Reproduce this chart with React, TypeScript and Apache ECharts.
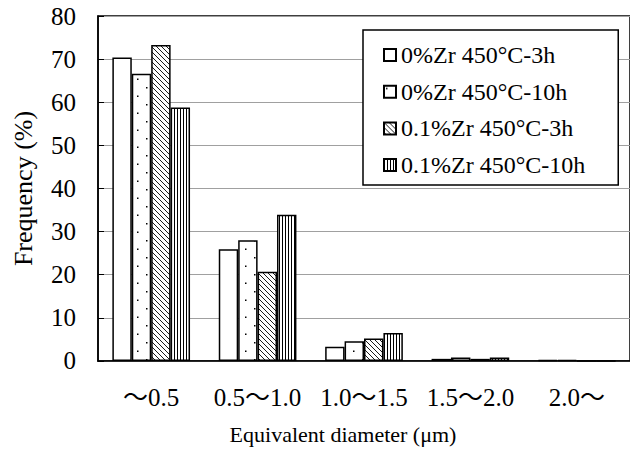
import React, { useEffect, useRef } from "react";
import * as echarts from "echarts";

const categories = ["～0.5", "0.5～1.0", "1.0～1.5", "1.5～2.0", "2.0～"];
const seriesNames = ["0%Zr 450°C-3h", "0%Zr 450°C-10h", "0.1%Zr 450°C-3h", "0.1%Zr 450°C-10h"];
const zr0_3h = [70.4, 25.9, 3.3, 0.5, 0.2];
const zr0_10h = [66.6, 28.0, 4.6, 0.8, 0.2];
const zr01_3h = [73.3, 20.7, 5.2, 0.5, 0];
const zr01_10h = [58.8, 33.9, 6.5, 0.8, 0];
const yTicks = { min: 0, max: 80, interval: 10 };

const SERIF = "'Liberation Serif', 'Times New Roman', 'Noto Sans CJK JP', serif";

function makeCanvas(w: number, h: number, draw: (c: CanvasRenderingContext2D) => void) {
  const cv = document.createElement("canvas");
  cv.width = w;
  cv.height = h;
  const ctx = cv.getContext("2d")!;
  ctx.fillStyle = "#fff";
  ctx.fillRect(0, 0, w, h);
  ctx.fillStyle = "#000";
  ctx.strokeStyle = "#000";
  draw(ctx);
  return cv;
}

function patterns() {
  const white = "#ffffff";
  const dots = makeCanvas(18, 17, (c) => {
    c.fillRect(2, 2, 1.5, 1.5);
    c.fillRect(11, 10.5, 1.5, 1.5);
  });
  const diag = makeCanvas(5, 5, (c) => {
    c.lineWidth = 0.9;
    c.beginPath();
    c.moveTo(-1, -1);
    c.lineTo(6, 6);
    c.moveTo(-1, 4);
    c.lineTo(1, 6);
    c.moveTo(4, -1);
    c.lineTo(6, 1);
    c.stroke();
  });
  const vert = makeCanvas(3, 4, (c) => {
    c.fillRect(0, 0, 1, 4);
  });
  return [
    white,
    { image: dots, repeat: "repeat" },
    { image: diag, repeat: "repeat" },
    { image: vert, repeat: "repeat" },
  ];
}

export default function App() {
  const ref = useRef<HTMLDivElement>(null);
  useEffect(() => {
    if (!ref.current) return;
    const chart = echarts.init(ref.current, undefined, { renderer: "svg" });
    const fills = patterns();
    const data = [zr0_3h, zr0_10h, zr01_3h, zr01_10h];
    chart.setOption({
      animation: false,
      backgroundColor: "#fff",
      grid: {
        left: 98,
        top: 16,
        width: 542,
        height: 347,
        show: true,
        borderColor: "#000",
        borderWidth: 1.5,
        backgroundColor: "transparent",
      },
      legend: {
        orient: "vertical",
        left: 363,
        top: 30,
        data: seriesNames,
        icon: "rect",
        itemWidth: 12,
        itemHeight: 12,
        itemGap: 12.7,
        itemTextGap: 10,
        padding: [13, 33, 8, 20],
        borderColor: "#000",
        borderWidth: 1.5,
        backgroundColor: "#fff",
        textStyle: { fontFamily: SERIF, fontSize: 24, color: "#000" },
      },
      xAxis: {
        type: "category",
        data: categories,
        name: "Equivalent diameter (μm)",
        nameLocation: "middle",
        nameGap: 62,
        nameTextStyle: { fontFamily: SERIF, fontSize: 22, color: "#000", padding: [0, 42, 0, 0] },
        axisLine: { lineStyle: { color: "#000", width: 1.5 } },
        axisTick: { inside: true, length: 6, lineStyle: { color: "#000", width: 1 } },
        axisLabel: { interval: 0, hideOverlap: false, fontFamily: SERIF, fontSize: 25, color: "#000", margin: 24 },
        splitLine: { show: false },
      },
      yAxis: {
        type: "value",
        min: yTicks.min,
        max: yTicks.max,
        interval: yTicks.interval,
        name: "Frequency (%)",
        nameLocation: "middle",
        nameGap: 62,
        nameTextStyle: { fontFamily: SERIF, fontSize: 26, color: "#000" },
        axisLine: { show: true, lineStyle: { color: "#000", width: 1.5 } },
        axisTick: { show: true, inside: true, length: 6, lineStyle: { color: "#000", width: 1 } },
        axisLabel: { fontFamily: SERIF, fontSize: 25, color: "#000", margin: 22 },
        splitLine: { show: true, lineStyle: { color: "#a0a0a0", width: 1 } },
      },
      series: seriesNames.map((name, i) => ({
        name,
        type: "bar",
        data: data[i],
        barGap: "0%",
        barCategoryGap: "27%",
        itemStyle: { color: fills[i], borderColor: "#000", borderWidth: 1.5 },
      })),
    });
    return () => chart.dispose();
  }, []);
  return (
    <div
      ref={ref}
      style={{ position: "fixed", left: 0, top: 0, width: 630, height: 450, background: "#fff" }}
    />
  );
}
